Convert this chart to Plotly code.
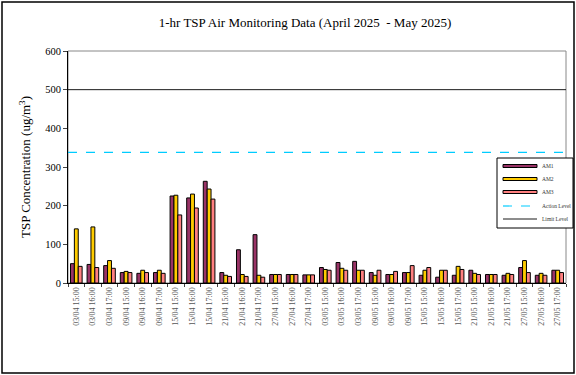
import plotly.graph_objects as go

categories = [
    "03/04 15:00", "03/04 16:00", "03/04 17:00",
    "09/04 15:00", "09/04 16:00", "09/04 17:00",
    "15/04 15:00", "15/04 16:00", "15/04 17:00",
    "21/04 15:00", "21/04 16:00", "21/04 17:00",
    "27/04 15:00", "27/04 16:00", "27/04 17:00",
    "03/05 15:00", "03/05 16:00", "03/05 17:00",
    "09/05 15:00", "09/05 16:00", "09/05 17:00",
    "15/05 15:00", "15/05 16:00", "15/05 17:00",
    "21/05 15:00", "21/05 16:00", "21/05 17:00",
    "27/05 15:00", "27/05 16:00", "27/05 17:00",
]
am1 = [50, 48, 45, 27, 25, 27, 225, 220, 263, 27, 86, 125, 22, 22, 21,
       40, 53, 56, 27, 22, 27, 20, 15, 20, 33, 22, 20, 40, 20, 33]
am2 = [140, 145, 58, 30, 33, 33, 227, 230, 243, 20, 22, 20, 22, 22, 21,
       35, 38, 33, 20, 22, 27, 33, 33, 43, 25, 22, 25, 58, 25, 33]
am3 = [43, 40, 38, 27, 27, 25, 176, 194, 217, 17, 17, 15, 22, 22, 21,
       33, 33, 33, 33, 30, 45, 40, 33, 35, 22, 22, 22, 27, 20, 27]
action_level = 338
limit_level = 500
y_ticks = [0, 100, 200, 300, 400, 500, 600]

SERIF = "Liberation Serif, Times New Roman, serif"
BAR_COLORS = {"AM1": "#993366", "AM2": "#FFCC00", "AM3": "#FF8080"}
ACTION_COLOR = "#00CCFF"
LIMIT_COLOR = "#1a1a1a"

# plot-area geometry in pixels (for converting legend layout to paper coords)
L, R, T, B, W, H = 68, 10, 51, 92, 576, 375
PW, PH = W - L - R, H - T - B
def px(x): return (x - L) / PW
def py(y): return (H - B - y) / PH

fig = go.Figure()
for name, vals in [("AM1", am1), ("AM2", am2), ("AM3", am3)]:
    fig.add_trace(go.Bar(x=categories, y=vals, name=name, showlegend=False,
                         marker=dict(color=BAR_COLORS[name], line=dict(color="black", width=1))))

fig.add_trace(go.Scatter(x=[0, 1], y=[action_level, action_level], xaxis="x2", mode="lines",
                         name="Action Level", showlegend=False,
                         line=dict(color=ACTION_COLOR, width=1.2, dash="dash")))
fig.add_trace(go.Scatter(x=[0, 1], y=[limit_level, limit_level], xaxis="x2", mode="lines",
                         name="Limit Level", showlegend=False,
                         line=dict(color=LIMIT_COLOR, width=1)))

# custom legend (matching the thin bar swatches of the original)
shapes = [
    dict(type="rect", xref="paper", yref="paper", x0=0, x1=1, y0=0, y1=1,
         line=dict(color="#888", width=1), layer="below"),
    dict(type="rect", xref="paper", yref="paper", x0=px(2), x1=px(574), y0=py(373), y1=py(2),
         line=dict(color="black", width=1.5)),
    dict(type="rect", xref="paper", yref="paper", x0=px(497), x1=px(573), y0=py(228), y1=py(158),
         line=dict(color="black", width=1), fillcolor="white"),
]
annotations = []
legend_rows = [("AM1", 166), ("AM2", 179), ("AM3", 192), ("Action Level", 206), ("Limit Level", 219)]
for name, yy in legend_rows:
    if name in BAR_COLORS:
        shapes.append(dict(type="rect", xref="paper", yref="paper", x0=px(503), x1=px(537),
                           y0=py(yy + 1.5), y1=py(yy - 1.5), fillcolor=BAR_COLORS[name],
                           line=dict(color="black", width=1)))
    elif name == "Action Level":
        shapes.append(dict(type="line", xref="paper", yref="paper", x0=px(503), x1=px(537),
                           y0=py(yy), y1=py(yy), line=dict(color=ACTION_COLOR, width=1.2, dash="dash")))
    else:
        shapes.append(dict(type="line", xref="paper", yref="paper", x0=px(503), x1=px(537),
                           y0=py(yy), y1=py(yy), line=dict(color=LIMIT_COLOR, width=1)))
    annotations.append(dict(text=name, xref="paper", yref="paper", x=px(540), y=py(yy),
                            xanchor="left", yanchor="middle", showarrow=False,
                            font=dict(size=5.5, family=SERIF, color="#333")))

fig.update_layout(
    width=W, height=H,
    margin=dict(l=L, r=R, t=T, b=B, autoexpand=False),
    paper_bgcolor="white", plot_bgcolor="white",
    font=dict(family=SERIF, color="black"),
    title=dict(text="1-hr TSP Air Monitoring Data (April 2025  - May 2025)",
               x=305 / W, xref="container", xanchor="center",
               y=1 - 22 / H, yref="container", yanchor="middle",
               font=dict(size=13, family=SERIF)),
    barmode="group", bargap=0.3, bargroupgap=0.0,
    showlegend=False,
    xaxis=dict(type="category", showgrid=False, showline=True, linecolor="black", linewidth=1,
               ticks="outside", ticklen=3, tickson="boundaries", tickangle=-90,
               tickfont=dict(size=8, color="#555", family=SERIF), mirror=False),
    xaxis2=dict(overlaying="x", range=[0, 1], visible=False),
    yaxis=dict(range=[0, 600], tickvals=y_ticks, showgrid=False, showline=True,
               linecolor="black", linewidth=1, ticks="outside", ticklen=4,
               tickfont=dict(size=10.5, family=SERIF), zeroline=False,
               title=dict(text="TSP Concentration (ug/m<sup>3</sup>)", font=dict(size=13, family=SERIF),
                          standoff=11)),
    shapes=shapes,
    annotations=annotations,
)

fig.write_html("out.html", config={"displayModeBar": False},
               post_script="document.body.style.margin='0';document.body.style.padding='0';")
